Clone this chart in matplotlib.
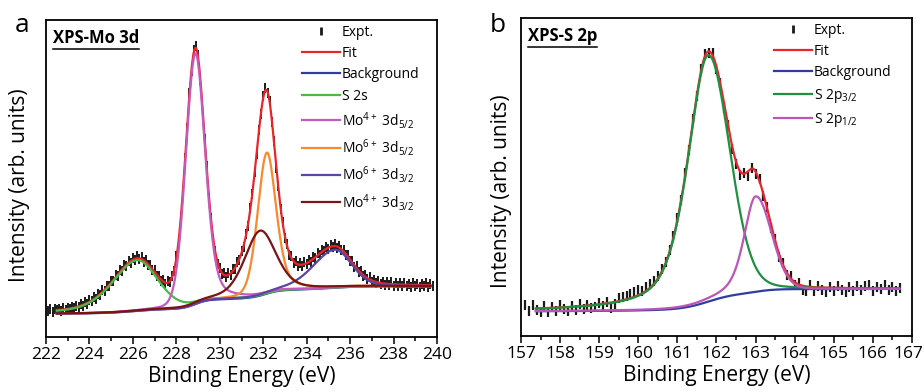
import numpy as np
import matplotlib.pyplot as plt
from matplotlib.lines import Line2D

plt.rcParams['font.family'] = ['Open Sans', 'DejaVu Sans']
plt.rcParams['mathtext.fontset'] = 'custom'
plt.rcParams['mathtext.rm'] = 'Open Sans'
plt.rcParams['mathtext.it'] = 'Open Sans'

# ---- panel a: Mo 3d
# measured counts (arb.), one point every 0.1 eV from 222.1 eV
mo_start, mo_step = 222.1, 0.1
mo_expt = [
    8.2, 8.9, 8.0, 8.7, 8.4, 8.9, 8.3, 9.1, 8.5, 9.3,
    8.7, 9.5, 9.0, 9.9, 9.4, 10.4, 9.8, 10.9, 10.5, 11.6,
    11.2, 12.5, 12.1, 13.6, 13.3, 14.9, 14.6, 16.2, 16.0, 17.8,
    17.6, 19.5, 19.2, 21.0, 20.9, 22.6, 22.3, 24.0, 23.5, 24.9,
    24.2, 25.4, 24.5, 25.1, 23.8, 24.2, 22.6, 22.7, 21.0, 21.0,
    19.3, 19.3, 17.8, 18.0, 16.8, 17.6, 17.4, 19.3, 20.8, 25.4,
    29.7, 37.9, 45.5, 56.5, 66.0, 76.9, 84.0, 90.5, 91.8, 88.9,
    81.2, 73.5, 62.6, 53.9, 44.0, 37.6, 30.6, 27.2, 23.1, 21.9,
    19.8, 20.1, 19.0, 20.1, 19.7, 21.3, 21.4, 23.6, 24.2, 27.1,
    28.5, 32.4, 35.0, 40.6, 45.0, 52.1, 57.7, 65.4, 70.3, 76.1,
    78.4, 76.9, 74.5, 67.7, 61.8, 53.4, 47.5, 40.3, 36.3, 31.2,
    29.3, 26.0, 25.5, 23.5, 23.9, 22.5, 23.4, 22.5, 23.6, 22.9,
    24.3, 23.8, 25.3, 24.8, 26.4, 25.9, 27.5, 27.0, 28.4, 27.8,
    29.1, 28.3, 29.3, 28.2, 28.8, 27.3, 27.6, 25.8, 25.9, 24.0,
    24.1, 22.2, 22.3, 20.5, 20.8, 19.2, 19.6, 18.2, 18.8, 17.4,
    18.1, 16.9, 17.7, 16.6, 17.4, 16.4, 17.3, 16.3, 17.2, 16.1,
    17.0, 16.2, 16.9, 16.0, 16.9, 16.1, 16.8, 15.9, 16.9, 16.0,
    16.7, 15.8, 16.8, 16.1, 16.9, 15.7, 16.6, 16.2,
]
# fit components: center (eV), height, fwhm left/right (eV), lorentz fraction left/right
mo_names = ['S 2s', 'Mo$^{4+}$ 3d$_{5/2}$', 'Mo$^{6+}$ 3d$_{5/2}$',
            'Mo$^{6+}$ 3d$_{3/2}$', 'Mo$^{4+}$ 3d$_{3/2}$']
mo_colors = ['#4cb848', '#c25bbd', '#f7892e', '#5b44a6', '#7b1416']
mo_center = [226.2, 228.88, 232.17, 235.3, 231.85]
mo_height = [16.0, 79.0, 44.5, 12.0, 20.5]
mo_fwhm_l = [2.7, 1.05, 1.0, 2.4, 1.7]
mo_fwhm_r = [2.2, 1.05, 1.0, 1.8, 1.7]
mo_eta_l = [0.45, 0.1, 0.2, 0.3, 0.4]
mo_eta_r = [0.3, 0.3, 0.4, 0.2, 0.4]
mo_bg_ends = [7.4, 16.0]
mo_range = [222.5, 239.7]

# ---- panel b: S 2p
s_start, s_step = 157.1, 0.1
s_expt = [
    9.6, 8.0, 9.8, 8.3, 7.5, 9.3, 7.7, 9.1, 8.0, 9.7,
    8.4, 7.8, 9.5, 8.3, 10.2, 8.6, 9.8, 8.7, 9.1, 10.5,
    9.4, 10.7, 8.9, 10.0, 11.8, 12.4, 12.7, 13.3, 13.8, 14.4,
    14.2, 15.5, 16.3, 17.2, 18.9, 21.0, 23.4, 27.2, 31.5, 37.1,
    42.8, 51.3, 58.6, 68.3, 75.5, 83.9, 88.6, 89.1, 88.9, 83.9,
    79.7, 71.8, 66.3, 58.8, 54.0, 50.7, 51.3, 50.2, 52.8, 51.0,
    49.4, 44.0, 40.5, 34.1, 30.6, 25.0, 23.0, 19.1, 18.8, 16.0,
    16.7, 14.6, 14.3, 15.9, 14.1, 15.6, 14.4, 13.9, 15.5, 14.2,
    15.6, 14.6, 13.8, 15.3, 14.0, 15.8, 14.5, 15.7, 16.0, 14.3,
    15.4, 14.8, 15.9, 14.6, 15.3, 14.2, 15.1,
]
s_names = ['S 2p$_{3/2}$', 'S 2p$_{1/2}$']
s_colors = ['#1f9040', '#bb55b8']
s_center = [161.78, 163.0]
s_height = [77.5, 30.0]
s_fwhm_l = [1.22, 0.7]
s_fwhm_r = [1.3, 0.95]
s_eta_l = [0.55, 0.5]
s_eta_r = [0.1, 0.05]
s_bg_ends = [7.8, 14.8]
s_range = [157.38, 166.68]


def pvoigt(x, c, h, wl, wr, el, er):
    w = np.where(x < c, wl, wr)
    eta = np.where(x < c, el, er)
    u = (x - c) / w
    return h * (eta / (1 + 4 * u**2) + (1 - eta) * np.exp(-4 * np.log(2) * u**2))


def model(rng, ends, *pars):
    # components on a Shirley-type background
    x = np.linspace(rng[0], rng[1], 700)
    peaks = [pvoigt(x, *p) for p in zip(*pars)]
    cum = np.cumsum(np.sum(peaks, axis=0))
    bg = ends[0] + (ends[1] - ends[0]) * cum / cum[-1]
    return x, peaks, bg


fig = plt.figure(figsize=(9.24, 3.92), dpi=100)
ax_a = fig.add_axes([46 / 924, 1 - 337 / 392, 391 / 924, 317 / 392])
ax_b = fig.add_axes([521 / 924, 1 - 336 / 392, 391 / 924, 318 / 392])

panels = [
    (ax_a, mo_start + mo_step * np.arange(len(mo_expt)), mo_expt, 1.4,
     model(mo_range, mo_bg_ends, mo_center, mo_height, mo_fwhm_l, mo_fwhm_r, mo_eta_l, mo_eta_r),
     mo_colors, (222, 240), np.arange(222, 241, 2), np.arange(223, 240, 2), 'XPS-Mo 3d'),
    (ax_b, s_start + s_step * np.arange(len(s_expt)), s_expt, 1.6,
     model(s_range, s_bg_ends, s_center, s_height, s_fwhm_l, s_fwhm_r, s_eta_l, s_eta_r),
     s_colors, (157, 167), np.arange(157, 168, 1), np.arange(157.5, 167, 1), 'XPS-S 2p'),
]

for ax, ex, ey, mew, (x, peaks, bg), colors, xlim, ticks, minor, title in panels:
    ax.plot(ex, ey, ls='none', marker='|', ms=7.2, mew=mew, color='#1a1a1a')
    ax.plot(x, bg, color='#2e3d9f', lw=1.6)
    ax.plot(x, bg + np.sum(peaks, axis=0), color='#e8262a', lw=1.6)
    for p, c in zip(peaks, colors):
        ax.plot(x, p + bg, color=c, lw=1.6)

    ax.set_xlim(*xlim)
    ax.set_ylim(0, 100)
    ax.set_xticks(ticks)
    ax.set_xticks(minor, minor=True)
    ax.set_yticks([])
    ax.tick_params(axis='x', which='major', direction='out', length=4.8, width=1.1,
                   labelsize=12.5, pad=2.5)
    ax.tick_params(axis='x', which='minor', direction='out', length=2.6, width=1.1)
    for s in ax.spines.values():
        s.set_linewidth(1.3)
    ax.set_xlabel('Binding Energy (eV)', fontsize=15, labelpad=2)
    ax.set_ylabel('Intensity (arb. units)', fontsize=15)
    ax._title_txt = ax.text(0.018, 0.927, title, transform=ax.transAxes, fontsize=12,
                            fontweight='bold', va='baseline')

ax_b.set_xticklabels([str(t) for t in range(157, 167)] + [''])
ax_a.yaxis.set_label_coords(-0.041, 0.48)
ax_b.yaxis.set_label_coords(-0.023, 0.456)

fig.text(15 / 924, 1 - 32 / 392, 'a', fontsize=19, va='baseline')
fig.text(490 / 924, 1 - 32 / 392, 'b', fontsize=19, va='baseline')

for ax, names, colors, anchor in [(ax_a, mo_names, mo_colors, (0.655, 0.985)),
                                  (ax_b, s_names, s_colors, (0.648, 0.985))]:
    hs = [Line2D([], [], ls='none', marker='|', color='#1a1a1a', ms=6, mew=2.0),
          Line2D([], [], color='#e8262a', lw=1.6),
          Line2D([], [], color='#2e3d9f', lw=1.6)]
    hs += [Line2D([], [], color=c, lw=1.6) for c in colors]
    ax.legend(hs, ['Expt.', 'Fit', 'Background'] + names, loc='upper left',
              bbox_to_anchor=anchor, frameon=False, fontsize=10, handlelength=2.7,
              handletextpad=0.15, borderpad=0, borderaxespad=0, labelspacing=0.45)

fig.canvas.draw()
inv = fig.transFigure.inverted()
for ax in (ax_a, ax_b):
    bb = ax._title_txt.get_window_extent().transformed(inv)
    y0 = bb.y0 - 2 / 392
    fig.add_artist(Line2D([bb.x0, bb.x1], [y0, y0], color='black', lw=1.1))
# last tick label of panel b sits at the figure edge: right-align it there
lb = ax_b.get_xticklabels()[-2].get_window_extent().transformed(inv)
fig.text(923 / 924, lb.y1, '167', fontsize=12.5, ha='right', va='top')

fig.savefig('out.png', dpi=100)
